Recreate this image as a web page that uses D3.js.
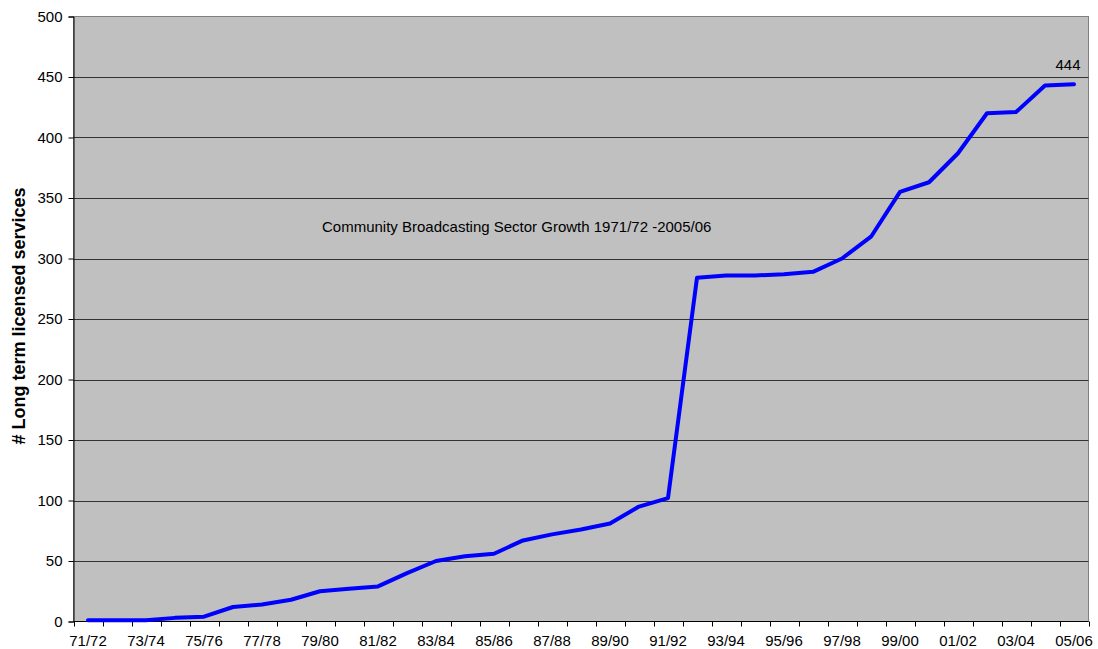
<!DOCTYPE html>
<html>
<head>
<meta charset="utf-8">
<script src="https://cdn.jsdelivr.net/npm/d3@7"></script>
<style>
  body { margin: 0; background: #fff; }
  svg { display: block; font-family: "Liberation Sans", Arial, sans-serif; }
</style>
</head>
<body>
<svg id="chart" width="1098" height="649"></svg>
<script>
// Financial years 1971/72 .. 2005/06
const years = ["71/72","72/73","73/74","74/75","75/76","76/77","77/78","78/79","79/80","80/81",
  "81/82","82/83","83/84","84/85","85/86","86/87","87/88","88/89","89/90","90/91",
  "91/92","92/93","93/94","94/95","95/96","96/97","97/98","98/99","99/00","00/01",
  "01/02","02/03","03/04","04/05","05/06"];
// Long term licensed community broadcasting services per year
const services = [1, 1, 1, 3, 4, 12, 14, 18, 25, 27,
  29, 40, 50, 54, 56, 67, 72, 76, 81, 95,
  102, 284, 286, 286, 287, 289, 300, 318, 355, 363,
  387, 420, 421, 443, 444];
const yTicks = [0, 50, 100, 150, 200, 250, 300, 350, 400, 450, 500];
const title = "Community Broadcasting Sector Growth 1971/72 -2005/06";
const yLabel = "# Long term licensed services";

const svg = d3.select("#chart");
const m = { left: 73.5, right: 1088.5, top: 16.5, bottom: 621.5 };

const x = d3.scaleBand().domain(years).range([m.left, m.right]).padding(0);
const y = d3.scaleLinear().domain([0, 500]).range([m.bottom, m.top]);

// plot area
svg.append("rect")
  .attr("x", m.left).attr("y", m.top)
  .attr("width", m.right - m.left).attr("height", m.bottom - m.top)
  .attr("fill", "#c0c0c0").attr("stroke", "#808080").attr("stroke-width", 1);

// horizontal gridlines
svg.append("g").selectAll("line")
  .data(yTicks.filter(d => d > 0 && d < 500))
  .join("line")
  .attr("x1", m.left).attr("x2", m.right)
  .attr("y1", d => Math.round(y(d)) + 0.5).attr("y2", d => Math.round(y(d)) + 0.5)
  .attr("stroke", "#333").attr("stroke-width", 1);

// y axis
const yAxis = svg.append("g")
  .attr("transform", `translate(${m.left},0)`)
  .call(d3.axisLeft(y).tickValues(yTicks).tickSize(5).tickPadding(6));
yAxis.select(".domain").attr("stroke", "#000");
yAxis.selectAll(".tick line").attr("stroke", "#000");
yAxis.selectAll(".tick text").attr("font-size", 15).attr("fill", "#000")
  .attr("font-family", "Liberation Sans, Arial, sans-serif");

// x axis: tick marks between categories, labels on every other category
const xAxis = svg.append("g").attr("transform", `translate(0,${m.bottom})`);
const boundaries = d3.range(years.length + 1).map(i => m.left + i * x.bandwidth());
xAxis.append("line")
  .attr("x1", m.left).attr("x2", m.right).attr("y1", 0).attr("y2", 0)
  .attr("stroke", "#000");
xAxis.selectAll("line.tk").data(boundaries).join("line")
  .attr("class", "tk")
  .attr("x1", d => Math.round(d) + 0.5).attr("x2", d => Math.round(d) + 0.5)
  .attr("y1", 0).attr("y2", 5).attr("stroke", "#000");
xAxis.selectAll("text").data(years.filter((d, i) => i % 2 === 0)).join("text")
  .attr("x", d => x(d) + x.bandwidth() / 2)
  .attr("y", 24.5)
  .attr("text-anchor", "middle")
  .attr("font-size", 15)
  .attr("fill", "#000")
  .text(d => d);

// series line
const line = d3.line()
  .x((d, i) => x(years[i]) + x.bandwidth() / 2)
  .y(d => y(d));
svg.append("path")
  .datum(services)
  .attr("d", line)
  .attr("fill", "none")
  .attr("stroke", "#0000ff")
  .attr("stroke-width", 4)
  .attr("stroke-linejoin", "round")
  .attr("stroke-linecap", "round");

// value label on the final point
const last = services.length - 1;
svg.append("text")
  .attr("x", x(years[last]) + x.bandwidth() / 2 - 6)
  .attr("y", y(services[last]) - 14)
  .attr("text-anchor", "middle")
  .attr("font-size", 15)
  .attr("fill", "#000")
  .text(services[last]);

// chart title inside plot area
svg.append("text")
  .attr("x", 322).attr("y", 232)
  .attr("font-size", 15)
  .attr("fill", "#000")
  .text(title);

// y axis title
svg.append("text")
  .attr("transform", `translate(25,${(m.top + m.bottom) / 2 - 3}) rotate(-90)`)
  .attr("text-anchor", "middle")
  .attr("font-size", 18)
  .attr("font-weight", "bold")
  .attr("fill", "#000")
  .text(yLabel);
</script>
</body>
</html>
